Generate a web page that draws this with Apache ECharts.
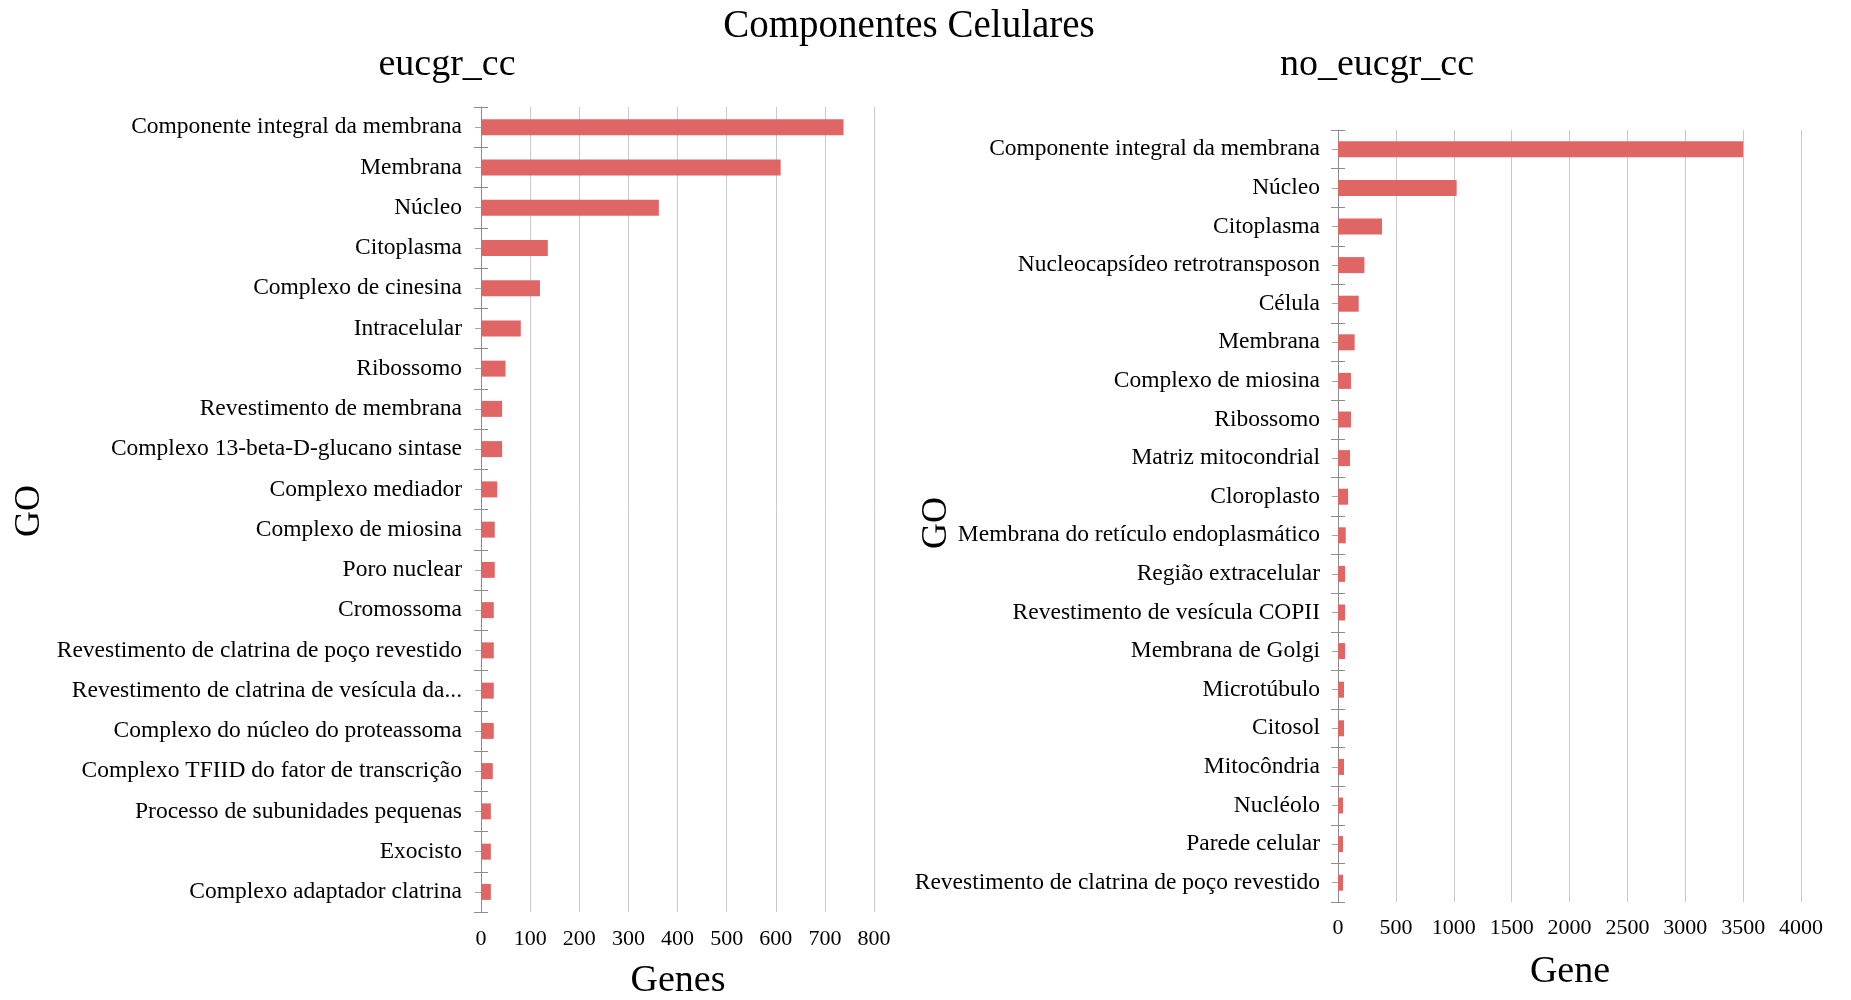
<!DOCTYPE html>
<html>
<head>
<meta charset="utf-8">
<script src="https://cdn.jsdelivr.net/npm/echarts@6/dist/echarts.min.js"></script>
<style>
  html, body { margin: 0; padding: 0; background: #fff; }
  #main { width: 1851px; height: 1000px; }
</style>
</head>
<body>
<div id="main"></div>
<script>
// eucgr_cc
var eucgrLabels = ['Componente integral da membrana', 'Membrana', 'Núcleo', 'Citoplasma', 'Complexo de cinesina',
  'Intracelular', 'Ribossomo', 'Revestimento de membrana', 'Complexo 13-beta-D-glucano sintase', 'Complexo mediador',
  'Complexo de miosina', 'Poro nuclear', 'Cromossoma', 'Revestimento de clatrina de poço revestido',
  'Revestimento de clatrina de vesícula da...', 'Complexo do núcleo do proteassoma',
  'Complexo TFIID do fator de transcrição', 'Processo de subunidades pequenas', 'Exocisto', 'Complexo adaptador clatrina']
var eucgrValues = [738, 610, 362, 136, 120, 81, 50, 43, 43, 33, 28, 28, 26, 26, 26, 26, 24, 20, 20, 20]
var eucgrTicks = { min: 0, max: 800, interval: 100 }

// no_eucgr_cc
var noEucgrLabels = ['Componente integral da membrana', 'Núcleo', 'Citoplasma', 'Nucleocapsídeo retrotransposon',
  'Célula', 'Membrana', 'Complexo de miosina', 'Ribossomo', 'Matriz mitocondrial', 'Cloroplasto',
  'Membrana do retículo endoplasmático', 'Região extracelular', 'Revestimento de vesícula COPII',
  'Membrana de Golgi', 'Microtúbulo', 'Citosol', 'Mitocôndria', 'Nucléolo', 'Parede celular',
  'Revestimento de clatrina de poço revestido']
var noEucgrValues = [3500, 1025, 380, 228, 179, 144, 112, 112, 104, 87, 67, 61, 61, 61, 52, 52, 52, 43, 43, 43]
var noEucgrTicks = { min: 0, max: 4000, interval: 500 }

var FONT = "'Liberation Serif', 'Times New Roman', serif"
var BAR = '#e06666'
var AXIS = '#8c8c8c'

// one main category axis + 3 helper axes for the Excel-like tick marks
function yAxesFor(gridIndex, labels, labelMargin) {
  var base = {
    type: 'category', gridIndex: gridIndex, data: labels, inverse: true, position: 'left',
    splitLine: { show: false }
  }
  return [
    Object.assign({}, base, {
      axisLine: { show: true, lineStyle: { color: AXIS, width: 1 } },
      axisTick: { show: true, inside: false, length: 7, lineStyle: { color: AXIS } },
      axisLabel: { show: true, interval: 0, margin: labelMargin, color: '#000', fontFamily: FONT, fontSize: 23.5 }
    }),
    Object.assign({}, base, {
      axisLine: { show: false },
      axisTick: { show: true, inside: true, length: 7, lineStyle: { color: AXIS } },
      axisLabel: { show: false }
    }),
    Object.assign({}, base, {
      axisLine: { show: false },
      axisTick: { show: true, alignWithLabel: true, inside: false, length: 6, lineStyle: { color: '#a6a6a6' } },
      axisLabel: { show: false }
    }),
    Object.assign({}, base, {
      axisLine: { show: false },
      axisTick: { show: true, alignWithLabel: true, inside: true, length: 5, lineStyle: { color: '#a6a6a6' } },
      axisLabel: { show: false }
    })
  ]
}

function xAxisFor(gridIndex, ticks, labelMargin) {
  return {
    type: 'value', gridIndex: gridIndex,
    min: ticks.min, max: ticks.max, interval: ticks.interval,
    axisLine: { show: false },
    axisTick: { show: false },
    splitLine: { show: true, lineStyle: { color: '#c9c9c9', width: 1 } },
    axisLabel: {
      margin: labelMargin, color: '#000', fontFamily: FONT, fontSize: 22,
      formatter: function (v) { return String(v) }
    }
  }
}

function text(x, y, str, size, rotate) {
  return {
    type: 'text', x: x, y: y, rotation: rotate || 0,
    style: { text: str, fill: '#000', font: size + 'px ' + FONT, align: 'center', verticalAlign: 'middle' }
  }
}

var option = {
  backgroundColor: '#fff',
  animation: false,
  grid: [
    { left: 481, top: 107, width: 393, height: 805 },
    { left: 1338, top: 130, width: 463, height: 772 }
  ],
  xAxis: [
    xAxisFor(0, eucgrTicks, 16),
    xAxisFor(1, noEucgrTicks, 15)
  ],
  yAxis: yAxesFor(0, eucgrLabels, 19).concat(yAxesFor(1, noEucgrLabels, 18)),
  series: [
    {
      type: 'bar', xAxisIndex: 0, yAxisIndex: 0, data: eucgrValues,
      barWidth: 16, itemStyle: { color: BAR }
    },
    {
      type: 'bar', xAxisIndex: 1, yAxisIndex: 4, data: noEucgrValues,
      barWidth: 16, itemStyle: { color: BAR }
    }
  ],
  graphic: [
    text(909, 27, 'Componentes Celulares', 39),
    text(447, 65, 'eucgr_cc', 38),
    text(1377, 65, 'no_eucgr_cc', 38),
    text(678, 981, 'Genes', 38),
    text(1570, 972, 'Gene', 38),
    text(30, 511, 'GO', 36, Math.PI / 2),
    text(937, 523, 'GO', 36, Math.PI / 2)
  ]
}

var myChart = echarts.init(document.getElementById('main'), null, { renderer: 'canvas' })
myChart.setOption(option)
</script>
</body>
</html>
